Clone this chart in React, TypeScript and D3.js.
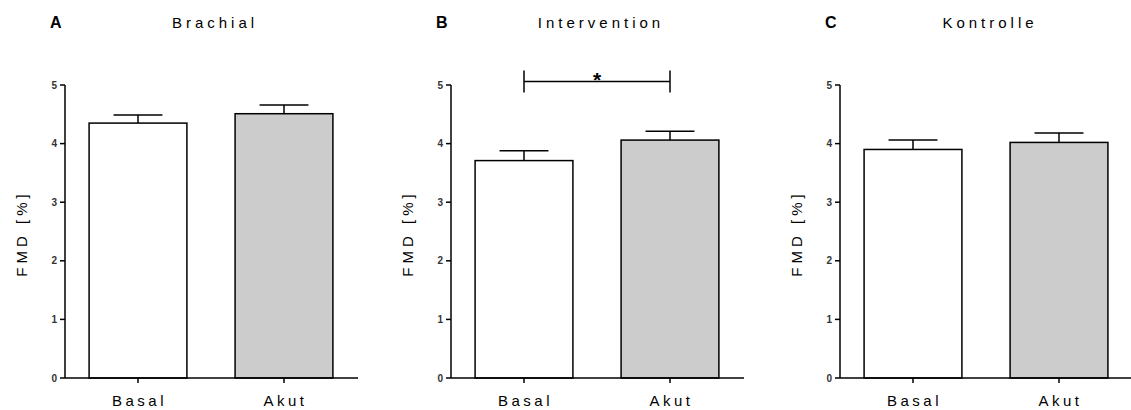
import React from 'react'
import * as d3 from 'd3'

const panelLetters = ['A', 'B', 'C']
const panelTitles = ['Brachial', 'Intervention', 'Kontrolle']
const categories = ['Basal', 'Akut']
const brachialMean = [4.35, 4.51]
const brachialSem = [0.14, 0.15]
const interventionMean = [3.71, 4.06]
const interventionSem = [0.17, 0.15]
const kontrolleMean = [3.9, 4.02]
const kontrolleSem = [0.16, 0.16]
const yTicks = [0, 1, 2, 3, 4, 5]
const barFills = ['#ffffff', '#cccccc']
// significance marker only in panel B
const sigLevel = [null, 5.06, null]

const means = [brachialMean, interventionMean, kontrolleMean]
const sems = [brachialSem, interventionSem, kontrolleSem]
const axisLeft = [65, 451, 840]

const FONT = '"Liberation Sans", Arial, sans-serif'

function Panel({ idx }: { idx: number }) {
  const x0 = axisLeft[idx]
  const plotW = 292
  const y = d3.scaleLinear().domain([0, 5]).range([378, 85])
  const x = d3.scaleBand<string>()
    .domain(categories)
    .range([x0, x0 + plotW])
    .paddingInner(0.33)
    .paddingOuter(0.165)
  const bw = x.bandwidth()
  const capW = bw / 2
  const cx = (c: string) => (x(c) as number) + bw / 2
  const mid = x0 + plotW / 2
  const sig = sigLevel[idx]

  return (
    <g>
      <text x={x0 - 15} y={28} fontFamily={FONT} fontWeight="bold" fontSize={16}>{panelLetters[idx]}</text>
      <text x={mid + 4} y={28} textAnchor="middle" fontFamily={FONT} fontSize={15} letterSpacing={4}>{panelTitles[idx]}</text>
      <text
        transform={`translate(${x0 - 38},${y(2.5) + 2}) rotate(-90)`}
        textAnchor="middle"
        fontFamily={FONT}
        fontSize={15}
        letterSpacing={4}
      >FMD [%]</text>

      {categories.map((c, i) => {
        const m = means[idx][i]
        const s = sems[idx][i]
        return (
          <g key={c}>
            <line x1={cx(c)} x2={cx(c)} y1={y(m)} y2={y(m + s)} stroke="#000" strokeWidth={1.5} />
            <line x1={cx(c) - capW / 2} x2={cx(c) + capW / 2} y1={y(m + s)} y2={y(m + s)} stroke="#000" strokeWidth={1.5} />
            <rect x={x(c)} y={y(m)} width={bw} height={y(0) - y(m)} fill={barFills[i]} stroke="#000" strokeWidth={1.5} />
          </g>
        )
      })}

      {/* y axis */}
      <line x1={x0} x2={x0} y1={y(0)} y2={y(5)} stroke="#000" strokeWidth={1.5} />
      {yTicks.map(t => (
        <g key={t}>
          <line x1={x0 - 5} x2={x0} y1={y(t)} y2={y(t)} stroke="#000" strokeWidth={1.5} />
          <text x={x0 - 8} y={y(t)} dy="0.35em" textAnchor="end" fontFamily={FONT} fontSize={10} fontWeight="bold" fill="#333">{t}</text>
        </g>
      ))}

      {/* x axis */}
      <line x1={x0} x2={x0 + plotW + 1} y1={y(0)} y2={y(0)} stroke="#000" strokeWidth={1.5} />
      {categories.map(c => (
        <g key={c}>
          <line x1={cx(c)} x2={cx(c)} y1={y(0)} y2={y(0) + 5} stroke="#000" strokeWidth={1.5} />
          <text x={cx(c) + 1.5} y={406} textAnchor="middle" fontFamily={FONT} fontSize={15} letterSpacing={3.5}>{c}</text>
        </g>
      ))}

      {sig !== null && (
        <g>
          <line x1={cx(categories[0])} x2={cx(categories[1])} y1={y(sig)} y2={y(sig)} stroke="#000" strokeWidth={1.5} />
          <line x1={cx(categories[0])} x2={cx(categories[0])} y1={y(sig) - 11} y2={y(sig) + 11} stroke="#000" strokeWidth={1.5} />
          <line x1={cx(categories[1])} x2={cx(categories[1])} y1={y(sig) - 11} y2={y(sig) + 11} stroke="#000" strokeWidth={1.5} />
          <text x={(cx(categories[0]) + cx(categories[1])) / 2} y={y(sig) + 6} textAnchor="middle" fontFamily={FONT} fontWeight="bold" fontSize={21}>*</text>
        </g>
      )}
    </g>
  )
}

export default function App() {
  return (
    <svg width={1131} height={410} style={{ position: 'absolute', left: 0, top: 0, background: '#fff' }}>
      <rect width={1131} height={410} fill="#fff" />
      {panelLetters.map((p, i) => <Panel key={p} idx={i} />)}
    </svg>
  )
}
